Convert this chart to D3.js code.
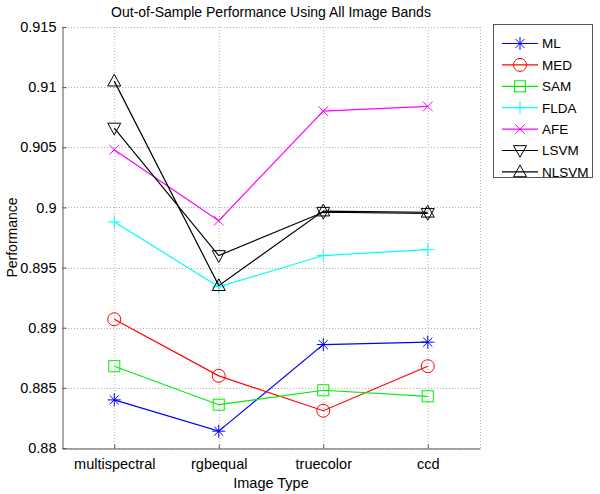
<!DOCTYPE html>
<html>
<head>
<meta charset="utf-8">
<script src="https://cdn.jsdelivr.net/npm/d3@7"></script>
<style>
  body { margin: 0; background: #fff; }
  svg { display: block; font-family: Arial, "Liberation Sans", sans-serif; }
</style>
</head>
<body>
<svg id="chart" width="600" height="494"></svg>
<script>
const width = 600;
const height = 494;

const categories = ["multispectral", "rgbequal", "truecolor", "ccd"];
const yTicks = [0.88, 0.885, 0.89, 0.895, 0.9, 0.905, 0.91, 0.915];
const yTickLabels = ["0.88", "0.885", "0.89", "0.895", "0.9", "0.905", "0.91", "0.915"];

const seriesNames = ["ML", "MED", "SAM", "FLDA", "AFE", "LSVM", "NLSVM"];
const seriesColors = ["#0000ff", "#ff0000", "#00ee00", "#00ffff", "#ff00ff", "#000000", "#000000"];
const seriesMarkers = ["asterisk", "circle", "square", "plus", "cross", "triDown", "triUp"];

const ML = [0.8840, 0.8814, 0.8886, 0.8888];
const MED = [0.8907, 0.8860, 0.8831, 0.8868];
const SAM = [0.8868, 0.8836, 0.8848, 0.8843];
const FLDA = [0.8988, 0.8934, 0.8960, 0.8965];
const AFE = [0.9048, 0.8989, 0.9080, 0.9084];
const LSVM = [0.9066, 0.8960, 0.8996, 0.8995];
const NLSVM = [0.9105, 0.8935, 0.8997, 0.8996];

const seriesValues = [ML, MED, SAM, FLDA, AFE, LSVM, NLSVM];

const margin = {l: 62, r: 120, t: 27, b: 46};

const svg = d3.select("#chart");

const x = d3.scaleLinear()
  .domain([0.5, categories.length + 0.5])
  .range([margin.l, width - margin.r]);
const y = d3.scaleLinear()
  .domain([0.88, 0.915])
  .range([height - margin.b, margin.t]);

// grid
const grid = svg.append("g")
  .attr("stroke", "#b0b0b0")
  .attr("stroke-width", 1)
  .attr("stroke-dasharray", "1,2");
categories.forEach((c, i) => {
  grid.append("line")
    .attr("x1", x(i + 1) + 0.5).attr("x2", x(i + 1) + 0.5)
    .attr("y1", y(0.88)).attr("y2", y(0.915));
});
grid.append("line")
  .attr("x1", x(4.5) + 0.5).attr("x2", x(4.5) + 0.5)
  .attr("y1", y(0.88)).attr("y2", y(0.915));
yTicks.forEach(t => {
  grid.append("line")
    .attr("x1", x(0.5)).attr("x2", x(4.5))
    .attr("y1", Math.round(y(t)) + 0.5).attr("y2", Math.round(y(t)) + 0.5);
});

// axes
const xAxis = d3.axisBottom(x)
  .tickValues(categories.map((c, i) => i + 1))
  .tickFormat((d, i) => categories[i])
  .tickSizeInner(-4)
  .tickSizeOuter(0)
  .tickPadding(10);
const gx = svg.append("g")
  .attr("transform", `translate(0,${Math.round(y(0.88)) + 0.5})`)
  .call(xAxis);

const yAxis = d3.axisLeft(y)
  .tickValues(yTicks)
  .tickFormat((d, i) => yTickLabels[i])
  .tickSizeInner(-4)
  .tickSizeOuter(0)
  .tickPadding(6);
const gy = svg.append("g")
  .attr("transform", `translate(${x(0.5) + 0.5},0)`)
  .call(yAxis);

[gx, gy].forEach(g => {
  g.selectAll(".domain").attr("stroke", "#555");
  g.selectAll(".tick line").attr("stroke", "#555");
  g.selectAll(".tick text").attr("fill", "#000").style("font-size", "14.5px");
});

// titles
svg.append("text")
  .attr("x", (x(0.5) + x(4.5)) / 2)
  .attr("y", 17)
  .attr("text-anchor", "middle")
  .style("font-size", "14px")
  .text("Out-of-Sample Performance Using All Image Bands");

svg.append("text")
  .attr("x", (x(0.5) + x(4.5)) / 2)
  .attr("y", 488)
  .attr("text-anchor", "middle")
  .style("font-size", "14.5px")
  .text("Image Type");

svg.append("text")
  .attr("transform", `translate(17,${(y(0.88) + y(0.915)) / 2}) rotate(-90)`)
  .attr("text-anchor", "middle")
  .style("font-size", "14px")
  .text("Performance");

// markers
function drawMarker(g, type, cx, cy, color, s) {
  const m = g.append("g").attr("transform", `translate(${cx},${cy})`)
    .attr("stroke", color).attr("fill", "none").attr("stroke-width", 1);
  if (type === "asterisk") {
    m.append("path").attr("d", `M${-s},0H${s}M0,${-s}V${s}M${-s*0.7},${-s*0.7}L${s*0.7},${s*0.7}M${-s*0.7},${s*0.7}L${s*0.7},${-s*0.7}`);
  } else if (type === "circle") {
    m.append("circle").attr("r", s);
  } else if (type === "square") {
    m.append("rect").attr("x", -s * 0.85).attr("y", -s * 0.85).attr("width", s * 1.7).attr("height", s * 1.7);
  } else if (type === "plus") {
    m.append("path").attr("d", `M${-s},0H${s}M0,${-s}V${s}`);
  } else if (type === "cross") {
    m.append("path").attr("d", `M${-s*0.75},${-s*0.75}L${s*0.75},${s*0.75}M${-s*0.75},${s*0.75}L${s*0.75},${-s*0.75}`);
  } else if (type === "triDown") {
    m.append("path").attr("d", `M${-s},${-s*0.75}H${s}L0,${s*1.05}Z`);
  } else if (type === "triUp") {
    m.append("path").attr("d", `M${-s},${s*0.75}H${s}L0,${-s*1.05}Z`);
  }
}

const line = d3.line()
  .x((d, i) => x(i + 1))
  .y(d => y(d));

seriesValues.forEach((vals, k) => {
  const g = svg.append("g");
  g.append("path")
    .datum(vals)
    .attr("d", line)
    .attr("fill", "none")
    .attr("stroke", seriesColors[k])
    .attr("stroke-width", 1.2);
  vals.forEach((v, i) => drawMarker(g, seriesMarkers[k], x(i + 1), y(v), seriesColors[k], 6.5));
});

// legend
const lg = svg.append("g");
lg.append("rect")
  .attr("x", 493.5).attr("y", 24.5)
  .attr("width", 99).attr("height", 153)
  .attr("fill", "#fff").attr("stroke", "#555");
seriesNames.forEach((name, k) => {
  const ly = 43.5 + k * 21.4;
  lg.append("line")
    .attr("x1", 502).attr("x2", 538)
    .attr("y1", ly).attr("y2", ly)
    .attr("stroke", seriesColors[k]).attr("stroke-width", 1.2);
  drawMarker(lg, seriesMarkers[k], 520, ly, seriesColors[k], 6.5);
  lg.append("text")
    .attr("x", 542).attr("y", ly)
    .attr("dy", "0.36em")
    .style("font-size", "13.5px")
    .text(name);
});
</script>
</body>
</html>
